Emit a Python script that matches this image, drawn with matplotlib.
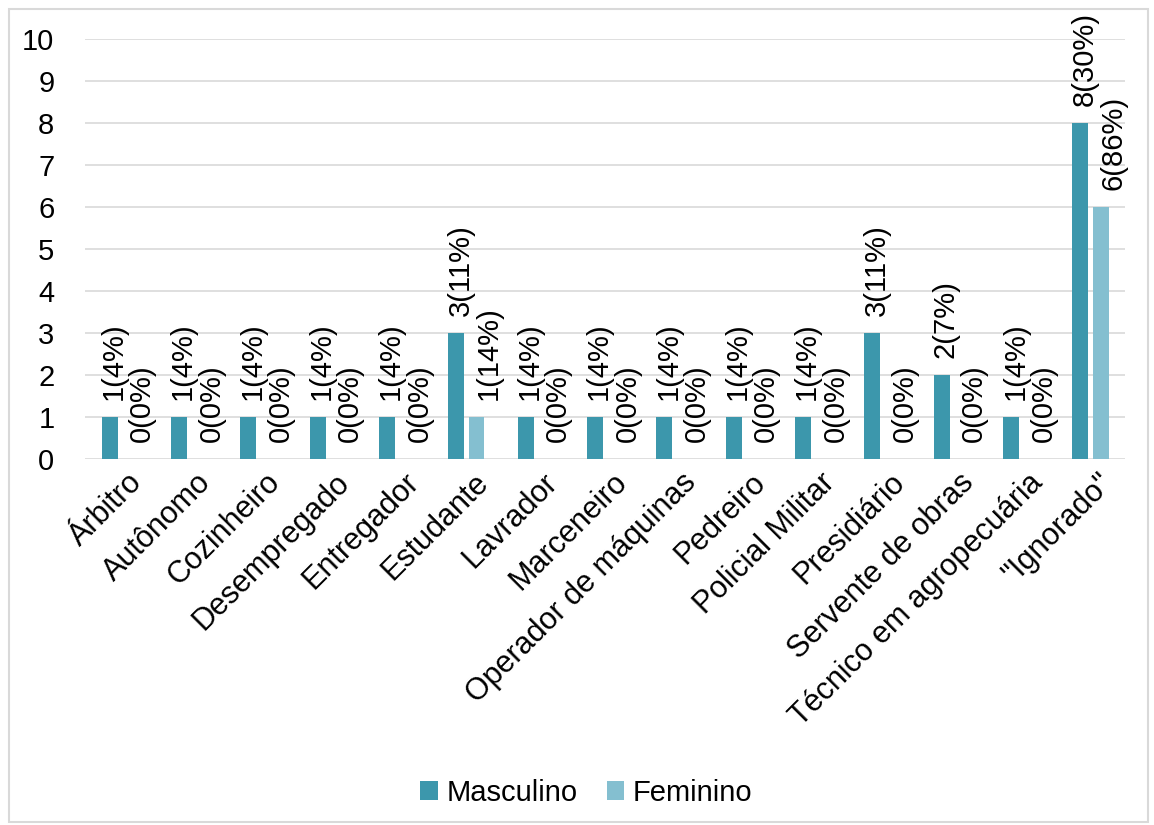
import matplotlib.pyplot as plt
import numpy as np
from matplotlib.patches import Rectangle

plt.rcParams['font.family'] = ['Liberation Sans', 'DejaVu Sans']

categories = ["Árbitro", "Autônomo", "Cozinheiro", "Desempregado", "Entregador",
              "Estudante", "Lavrador", "Marceneiro", "Operador de máquinas", "Pedreiro",
              "Policial Militar", "Presidiário", "Servente de obras",
              "Técnico em agropecuária", "\"Ignorado\""]
masculino = [1, 1, 1, 1, 1, 3, 1, 1, 1, 1, 1, 3, 2, 1, 8]
masc_pct = [4, 4, 4, 4, 4, 11, 4, 4, 4, 4, 4, 11, 7, 4, 30]
feminino = [0, 0, 0, 0, 0, 1, 0, 0, 0, 0, 0, 0, 0, 0, 6]
fem_pct = [0, 0, 0, 0, 0, 14, 0, 0, 0, 0, 0, 0, 0, 0, 86]

c_masc = "#3C97AC"
c_fem = "#84BFD0"

fig = plt.figure(figsize=(11.54, 8.25), dpi=100)
ax = fig.add_axes([0.0737, 0.4436, 0.9013, 0.5091])

x = np.arange(len(categories))
w = 0.23
off = 0.145
b1 = ax.bar(x - off, masculino, w, color=c_masc, label="Masculino", zorder=3)
b2 = ax.bar(x + off, feminino, w, color=c_fem, label="Feminino", zorder=3)

# data labels, rotated like the original
for bars, pcts, dx in [(b1, masc_pct, 3), (b2, fem_pct, 9)]:
    for bar, p in zip(bars, pcts):
        h = bar.get_height()
        ax.annotate(f"{int(h)}({p}%)", (bar.get_x() + bar.get_width() / 2, h),
                    xytext=(dx, 12), textcoords="offset points",
                    rotation=90, ha="center", va="bottom", fontsize=21)

ax.set_xlim(-0.5, len(categories) - 0.5)
ax.set_ylim(0, 10)
ax.set_yticks(range(0, 11))
ax.yaxis.grid(True, color="#D9D9D9", linewidth=1.2, zorder=0)
for s in ax.spines.values():
    s.set_visible(False)
ax.tick_params(axis="y", length=0, labelsize=21, pad=22)
ax.tick_params(axis="x", length=0, labelsize=22, pad=6)
ax.set_xticks(x + 0.1)
ax.set_xticklabels(categories, rotation=45, ha="right", va="top", rotation_mode="anchor")

fig.legend(loc="center", bbox_to_anchor=(0.508, 0.039), ncol=2, frameon=False,
           fontsize=21, handlelength=0.6, handleheight=0.6, handletextpad=0.3,
           columnspacing=1.0)

fig.patches.append(Rectangle((0.008, 0.004), 0.987, 0.985, transform=fig.transFigure,
                             fill=False, edgecolor="#D9D9D9", linewidth=1.5))

fig.savefig("out.png", dpi=100)
